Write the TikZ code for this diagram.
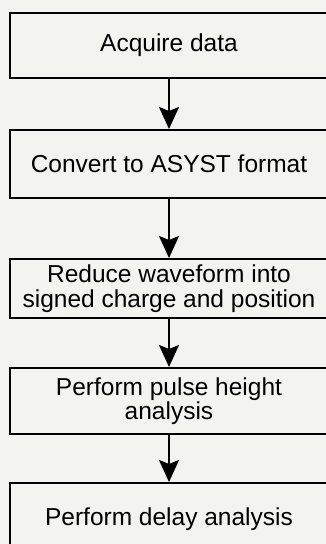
\documentclass[tikz,border=0pt]{standalone}
\usepackage{fontspec}
\setmainfont{Liberation Sans}
\usetikzlibrary{arrows.meta}
\definecolor{paper}{RGB}{243,243,240}
\begin{document}
\begin{tikzpicture}[x=1pt,y=-1pt,
  stepbox/.style={draw=black, line width=2pt, fill=paper, minimum width=318pt,
    inner sep=0pt, align=center, font=\fontsize{24.5}{24.5}\selectfont},
  flow/.style={draw=black, line width=2.5pt,
    -{Stealth[length=22pt,width=20pt,inset=4pt]}}]
  \useasboundingbox (0,0) rectangle (326,544);
  \fill[paper] (0,0) rectangle (326,544);
  \clip (0,0) rectangle (326,544);
  % process steps, top to bottom
  \node[stepbox, minimum height=65pt] (b1) at (169,45.5) {Acquire data};
  \node[stepbox, minimum height=68pt] (b2) at (169,164) {Convert to ASYST format};
  \node[stepbox, minimum height=59pt] (b3) at (169,288.5) {Reduce waveform into\\signed charge and position};
  \node[stepbox, minimum height=66pt] (b4) at (169,401) {Perform pulse height\\analysis};
  \node[stepbox, minimum height=72pt] (b5) at (169,519) {Perform delay analysis};
  % connectors
  \draw[flow] (b1.south) -- (b2.north);
  \draw[flow] (b2.south) -- (b3.north);
  \draw[flow] (b3.south) -- (b4.north);
  \draw[flow] (b4.south) -- (b5.north);
\end{tikzpicture}
\end{document}
